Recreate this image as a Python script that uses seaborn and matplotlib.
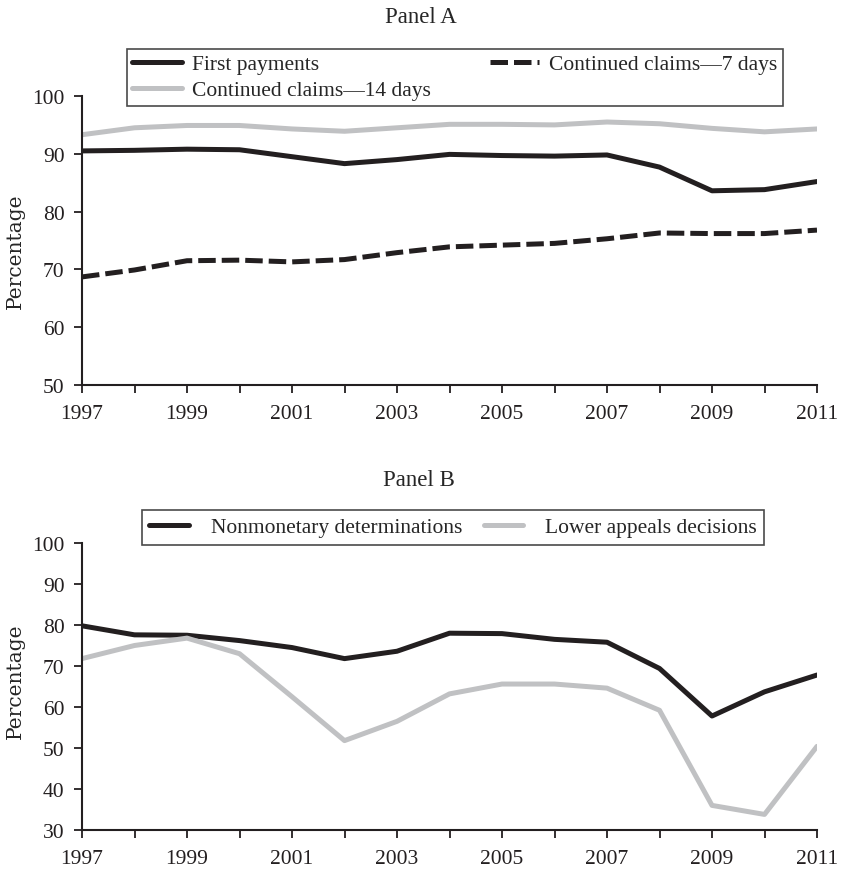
import pandas as pd
import numpy as np
import matplotlib
matplotlib.use("Agg")
import matplotlib.pyplot as plt
import seaborn as sns

# values
years = list(range(1997, 2012))

first_payments = [90.5, 90.6, 90.8, 90.7, 89.5, 88.3, 89.0, 89.9, 89.7, 89.6, 89.8, 87.7, 83.6, 83.8, 85.2]
claims_14 = [93.3, 94.5, 94.9, 94.9, 94.3, 93.9, 94.5, 95.1, 95.1, 95.0, 95.5, 95.2, 94.4, 93.8, 94.3]
claims_7 = [68.7, 69.9, 71.5, 71.6, 71.3, 71.7, 72.9, 73.9, 74.2, 74.5, 75.3, 76.3, 76.2, 76.2, 76.8]

nonmonetary = [79.8, 77.6, 77.5, 76.2, 74.5, 71.8, 73.6, 78.0, 77.9, 76.5, 75.8, 69.4, 57.8, 63.7, 67.8]
lower_appeals = [71.8, 75.0, 76.8, 73.0, 62.5, 51.8, 56.5, 63.2, 65.6, 65.6, 64.6, 59.2, 36.0, 33.8, 50.4]

names_a = ["First payments", "Continued claims\u201414 days", "Continued claims\u20147 days"]
names_b = ["Nonmonetary determinations", "Lower appeals decisions"]

black = "#231f20"
grey = "#c0c1c3"
FS = 15.5

sns.set_style("ticks")
plt.rcParams["font.family"] = ["Liberation Serif", "DejaVu Serif"]
plt.rcParams["font.size"] = FS

panel_a = pd.concat([
    pd.DataFrame({"Year": years, "Value": vals, "Series": name})
    for name, vals in zip(names_a, [first_payments, claims_14, claims_7])
])
panel_b = pd.concat([
    pd.DataFrame({"Year": years, "Value": vals, "Series": name})
    for name, vals in zip(names_b, [nonmonetary, lower_appeals])
])

W, H = 842, 870
fig = plt.figure(figsize=(W / 100, H / 100), dpi=100)

def px_box(x0, y0, x1, y1):
    # pixel box (top-left origin) -> figure fraction [left, bottom, width, height]
    return [x0 / W, 1 - y1 / H, (x1 - x0) / W, (y1 - y0) / H]

ax_a = fig.add_axes(px_box(82, 97, 817, 386))
ax_b = fig.add_axes(px_box(82, 544, 817, 831))

#Panel A
sns.lineplot(data=panel_a, x="Year", y="Value", hue="Series", style="Series",
             palette={names_a[0]: black, names_a[1]: grey, names_a[2]: black},
             dashes={names_a[0]: "", names_a[1]: "", names_a[2]: (3.5, 1.2)},
             linewidth=3.6, ax=ax_a)
ax_a.set_ylim(50, 100)
ax_a.set_yticks(range(50, 101, 10))

#Panel B
sns.lineplot(data=panel_b, x="Year", y="Value", hue="Series",
             palette={names_b[0]: black, names_b[1]: grey},
             linewidth=3.6, ax=ax_b)
ax_b.set_ylim(30, 100)
ax_b.set_yticks(range(30, 101, 10))

for ax, ly in ((ax_a, 0.466), (ax_b, 0.523)):
    ax.set_xlim(1997, 2011)
    ax.set_xticks(years, labels=[str(y) if y % 2 else "" for y in years])
    ax.set_xlabel("")
    ax.set_ylabel("Percentage", fontsize=14.5, family="DejaVu Serif", va="center")
    ax.yaxis.set_label_coords(-0.09, ly)
    ax.tick_params(direction="out", length=6, width=1.3, colors=black,
                   labelsize=FS, pad=6.5)
    ax.tick_params(axis="x", pad=7.5)
    sns.despine(ax=ax)
    for s in ("left", "bottom"):
        ax.spines[s].set_linewidth(1.5)
        ax.spines[s].set_color(black)

#Legends
ax_a.get_legend().remove()
h, l = ax_a.get_legend_handles_labels()
for line in h:
    line.set_solid_capstyle("round")
x0, y0, w, hh = px_box(127, 50, 783, 107)
leg_a = fig.legend(h, l, ncol=2, loc="upper left", mode="expand",
                   bbox_to_anchor=(x0, y0, w, hh),
                   fancybox=False, edgecolor="#4a4a4a", framealpha=1,
                   handlelength=2.3, handletextpad=0.47, borderpad=0.25,
                   labelspacing=0.26, borderaxespad=0, fontsize=FS)
leg_a.get_frame().set_linewidth(1.2)

ax_b.get_legend().remove()
h, l = ax_b.get_legend_handles_labels()
for line in h:
    line.set_solid_capstyle("round")
leg_b = fig.legend(h, l, ncol=2, loc="upper left",
                   bbox_to_anchor=(142 / W, 1 - 511 / H),
                   fancybox=False, edgecolor="#4a4a4a", framealpha=1,
                   handlelength=1.85, handletextpad=1.0, borderpad=0.34,
                   columnspacing=1.0, borderaxespad=0, fontsize=FS)
leg_b.get_frame().set_linewidth(1.2)

fig.text(0.4994, 1 - 23 / H, "Panel A", ha="center", va="baseline", fontsize=16.5)
fig.text(0.4976, 1 - 486 / H, "Panel B", ha="center", va="baseline", fontsize=16.5)

fig.savefig("out.png", dpi=100)
